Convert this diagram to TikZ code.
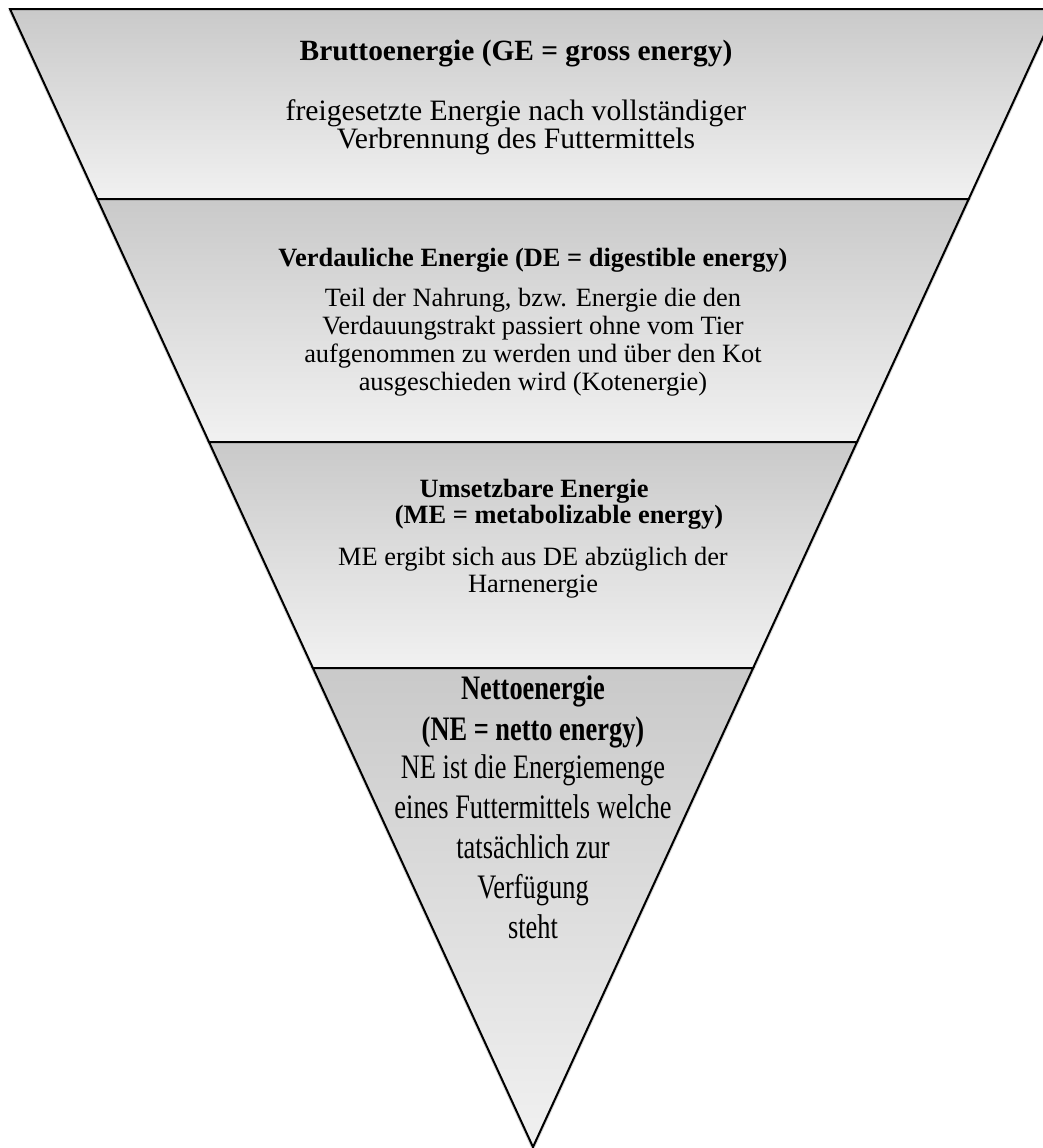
\documentclass[tikz,border=0pt]{standalone}
\usepackage{fontspec}
\setmainfont{Liberation Serif}
\usepackage{graphicx}
\definecolor{gtop}{gray}{0.79}
\definecolor{gbot}{gray}{0.945}
\newcommand\vstretch[1]{\scalebox{1}[1.3]{#1}}
\tikzset{
  band/.style={top color=gtop, bottom color=gbot, draw=black, line width=1pt, line join=miter},
  txt/.style={anchor=base, inner sep=0pt, align=center, text=black},
  bigttl/.style={txt, font=\bfseries\fontsize{14.7}{14}\selectfont},
  bigbody/.style={txt, font=\fontsize{14.8}{14}\selectfont},
  ttl/.style={txt, font=\bfseries\fontsize{13.2}{13}\selectfont},
  body/.style={txt, font=\fontsize{13.2}{13.85}\selectfont},
  netttl/.style={txt, font=\bfseries\fontsize{13.2}{20.5}\selectfont},
  netbody/.style={txt, font=\fontsize{13.2}{20}\selectfont},
  shadowline/.style={draw=black!30, line width=2pt, opacity=0.5}
}
\begin{document}
\begin{tikzpicture}[x=0.5pt,y=-0.5pt]
\useasboundingbox (0,0) rectangle (1043,1148);
\fill[white] (0,0) rectangle (1043,1148);
\clip (0,0) rectangle (1043,1148);
% corner points of the bands
\coordinate (a0) at (10,9);     \coordinate (b0) at (1056,9);
\coordinate (a1) at (97.3,199); \coordinate (b1) at (968.7,199);
\coordinate (a2) at (209,442);  \coordinate (b2) at (857,442);
\coordinate (a3) at (312.9,668);\coordinate (b3) at (753.1,668);
\coordinate (apex) at (533,1147);
% soft shadow
\path[shadowline, shift={(2,2)}] (a0) -- (apex) -- (b0);
% bands
\shadedraw[band] (a0) -- (b0) -- (b1) -- (a1) -- cycle;
\shadedraw[band] (a1) -- (b1) -- (b2) -- (a2) -- cycle;
\shadedraw[band] (a2) -- (b2) -- (b3) -- (a3) -- cycle;
\shadedraw[band] (a3) -- (b3) -- (apex) -- cycle;
% texts (base anchor = baseline of the last line)
\node[bigttl] (geT) at (516,60) {Bruttoenergie (GE = gross energy)};
\node[bigbody] (geB) at (516,148) {freigesetzte Energie nach vollständiger\\Verbrennung des Futtermittels};
\node[ttl] (deT) at (533,266) {Verdauliche Energie (DE = digestible energy)};
\node[body] (deB) at (533,390) {Teil der Nahrung, bzw. Energie die den\\Verdauungstrakt passiert ohne vom Tier\\aufgenommen zu werden und über den Kot\\ausgeschieden wird (Kotenergie)};
\node[ttl] (meT1) at (534,497) {Umsetzbare Energie};
\node[ttl] (meT2) at (559,523) {(ME = metabolizable energy)};
\node[body, font=\fontsize{13.2}{13.5}\selectfont] (meB) at (533,592) {ME ergibt sich aus DE abzüglich der\\Harnenergie};
\node[netttl] (neT) at (533,740) {\vstretch{Nettoenergie}\\\vstretch{(NE = netto energy)}};
\node[netbody] (neB) at (533,938) {\vstretch{NE ist die Energiemenge}\\\vstretch{eines Futtermittels welche}\\\vstretch{tatsächlich zur}\\\vstretch{Verfügung}\\\vstretch{steht}};
\end{tikzpicture}
\end{document}
